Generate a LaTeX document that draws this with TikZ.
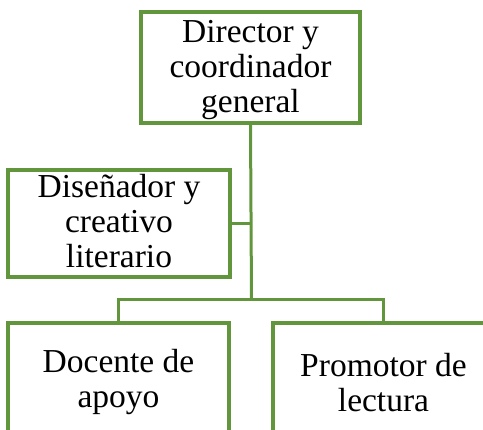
\documentclass[tikz,border=0pt]{standalone}
\usepackage{fontspec}
\setmainfont{Liberation Serif}
\definecolor{boxgreen}{RGB}{98,150,60}
\begin{document}
\begin{tikzpicture}[x=1pt,y=-1pt,
  box/.style={draw=boxgreen,line width=3.3pt,fill=white,align=center,
    font=\fontsize{33.5}{35}\selectfont,inner sep=0pt},
  link/.style={draw=boxgreen,line width=3pt}]
\useasboundingbox (0,0) rectangle (483,430);
\clip (0,0) rectangle (483,430);
\node[box,minimum width=219pt,minimum height=111pt] (dir) at (250.5,67.5) {\rule{0pt}{28.2pt}Director y\\coordinador\\general};
\node[box,minimum width=222pt,minimum height=107pt] (dis) at (119,223.5) {Diseñador y\\creativo\\literario\rule[-5pt]{0pt}{5pt}};
\node[box,minimum width=221pt,minimum height=116pt] (doc) at (118.5,381) {\rule{0pt}{26.2pt}Docente de\\apoyo};
\node[box,minimum width=221pt,minimum height=116pt] (pro) at (383.5,381) {\rule{0pt}{26.2pt}Promotor de\\lectura};
\coordinate (j) at (251.5,300);
\draw[link] (dir.south) -- (j);
\draw[link] (dis.east) -- (dis.east -| j);
\draw[link] (doc.north) |- (j) -| (pro.north);
\end{tikzpicture}
\end{document}
